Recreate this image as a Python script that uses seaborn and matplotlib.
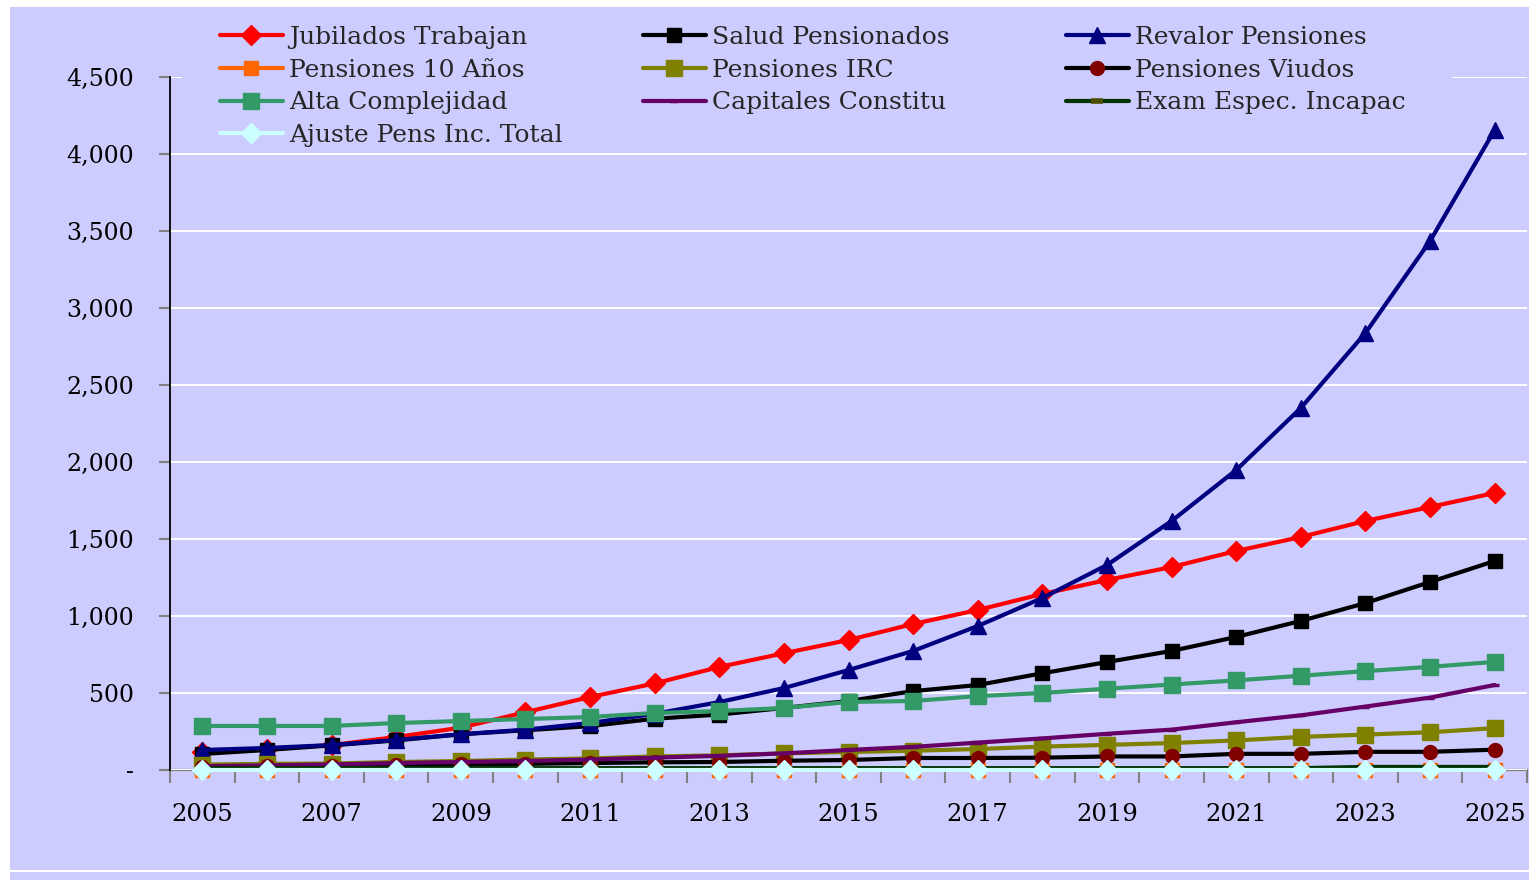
import matplotlib
matplotlib.use("Agg")
import matplotlib.pyplot as plt
import matplotlib.ticker as mticker
from matplotlib.patches import Rectangle
import seaborn as sns

# ---------------- data ----------------
years = list(range(2005, 2026))
jubilados = [120, 135, 162, 214, 275, 375, 474, 562, 669, 758, 844, 948, 1039, 1143, 1234, 1318, 1422, 1513, 1617, 1708, 1799]
salud = [104, 130, 160, 192, 232, 258, 285, 333, 360, 403, 448, 512, 552, 628, 701, 773, 864, 968, 1084, 1221, 1357]
revalor = [130, 143, 162, 195, 232, 262, 305, 365, 441, 532, 649, 773, 935, 1117, 1331, 1617, 1948, 2351, 2838, 3435, 4156]
pens10 = [0, 0, 0, 0, 0, 0, 0, 0, 0, 0, 0, 0, 0, 0, 0, 0, 0, 0, 0, 0, 0]
irc = [35, 40, 42, 52, 58, 68, 75, 88, 95, 108, 117, 125, 136, 152, 163, 175, 192, 215, 230, 245, 272]
viudos = [22, 25, 28, 32, 36, 40, 45, 50, 52, 60, 65, 78, 78, 80, 88, 88, 105, 105, 118, 118, 132]
alta = [286, 286, 286, 305, 318, 331, 344, 370, 383, 403, 442, 448, 480, 500, 528, 555, 582, 612, 642, 670, 702]
capitales = [25, 30, 36, 45, 52, 58, 68, 80, 92, 108, 130, 150, 178, 205, 235, 262, 310, 355, 412, 470, 552]
exam = [12, 12, 12, 12, 12, 12, 12, 12, 12, 12, 12, 12, 12, 12, 12, 12, 12, 12, 20, 20, 20]
ajuste = [0, 0, 0, 0, 0, 0, 0, 0, 0, 0, 0, 0, 0, 0, 0, 0, 0, 0, 0, 0, 0]

labels = ["Jubilados Trabajan", "Salud Pensionados", "Revalor Pensiones",
          "Pensiones 10 Años", "Pensiones IRC", "Pensiones Viudos",
          "Alta Complejidad", "Capitales Constitu", "Exam Espec. Incapac",
          "Ajuste Pens Inc. Total"]
series = [jubilados, salud, revalor, pens10, irc, viudos, alta, capitales, exam, ajuste]
y_ticks = [0, 500, 1000, 1500, 2000, 2500, 3000, 3500, 4000, 4500]
x_label_years = [2005, 2007, 2009, 2011, 2013, 2015, 2017, 2019, 2021, 2023, 2025]

# ---------------- styles ----------------
LAV = "#CCCCFF"
styles = [
    dict(color="#FF0000", marker="D", mfc="#FF0000", mec="#FF0000", ms=10),
    dict(color="#000000", marker="s", mfc="#000000", mec="#000000", ms=10),
    dict(color="#000080", marker="^", mfc="#000080", mec="#000080", ms=12),
    dict(color="#FF6600", marker="s", mfc="#FF6600", mec="#FF6600", ms=10),
    dict(color="#808000", marker="s", mfc="#808000", mec="#808000", ms=11),
    dict(color="#000000", marker="o", mfc="#800000", mec="#800000", ms=10),
    dict(color="#339966", marker="s", mfc="#339966", mec="#339966", ms=12),
    dict(color="#660066", marker="_", mfc="#660066", mec="#660066", ms=6, mew=2.5),
    dict(color="#003300", marker="_", mfc="#4D4D00", mec="#4D4D00", ms=9, mew=4),
    dict(color="#CCFFFF", marker="D", mfc="#CCFFFF", mec="#CCFFFF", ms=10),
]

sns.set_theme(style="white")
plt.rcParams["font.family"] = ["DejaVu Serif"]

fig = plt.figure(figsize=(15.29, 8.80), dpi=100)
fig.patch.set_facecolor("white")
W, H = 1529.0, 880.0
# chart area background (lavender) with thin white edges like the source
fig.patches.append(Rectangle((10 / W, 0), 1 - 10 / W, 1 - 7 / H, transform=fig.transFigure,
                             facecolor=LAV, edgecolor="none", zorder=-10))
fig.patches.append(Rectangle((10 / W, (880 - 872) / H), 1 - 10 / W, 2 / H, transform=fig.transFigure,
                             facecolor="white", edgecolor="none", zorder=-9))

ax = fig.add_axes([170 / W, 1 - 770 / H, (1527 - 170) / W, (770 - 77) / H])
ax.set_facecolor(LAV)

handles = []
for lab, vals, st in zip(labels, series, styles):
    sns.lineplot(x=years, y=vals, ax=ax, color=st["color"], marker=st["marker"],
                 markerfacecolor=st["mfc"], markeredgecolor=st["mec"],
                 markersize=st["ms"], markeredgewidth=st.get("mew", 1),
                 linewidth=3.0, label=lab, clip_on=False, legend=False)
    handles.append(ax.lines[-1])

ax.set_xlim(2004.5, 2025.5)
ax.set_ylim(0, 4500)

# grid
ax.yaxis.grid(True, color="white", linewidth=1.4)
ax.xaxis.grid(False)
ax.set_axisbelow(True)

# spines
for s in ["top", "right"]:
    ax.spines[s].set_visible(False)
ax.spines["left"].set_color("black")
ax.spines["left"].set_linewidth(1.3)
ax.spines["bottom"].set_color("#808080")
ax.spines["bottom"].set_linewidth(1.6)
ax.spines["bottom"].set_zorder(0.5)

# y ticks
ax.set_yticks(y_ticks)
ax.yaxis.set_major_formatter(mticker.FuncFormatter(lambda v, p: "-" if v == 0 else f"{v:,.0f}"))
ax.tick_params(axis="y", which="major", direction="out", length=8, width=1.5,
               color="#808080", pad=18, labelsize=17, left=True)

# x ticks: labels at odd years, tick marks at category boundaries
ax.set_xticks(x_label_years)
ax.set_xticks([2004.5 + i for i in range(22)], minor=True)
ax.tick_params(axis="x", which="major", length=0, pad=24, labelsize=17.5, bottom=True)
ax.tick_params(axis="x", which="minor", direction="out", length=9, width=1.5,
               color="#808080", bottom=True)
ax.set_xlabel("")
ax.set_ylabel("")
for t in ax.get_xticklabels() + ax.get_yticklabels():
    t.set_color("black")

# legend background panel
fig.patches.append(Rectangle((182 / W, 1 - 152 / H), (1452 - 182) / W, (152 - 12) / H,
                             transform=fig.transFigure, facecolor=LAV, edgecolor="none", zorder=2))

cols = [[0, 3, 6, 9], [1, 4, 7], [2, 5, 8]]
col_x = [220, 643, 1066]
for idx, cx in zip(cols, col_x):
    leg = fig.legend([handles[i] for i in idx], [labels[i] for i in idx],
                     loc="upper left", bbox_to_anchor=(cx / W, 1 - 26 / H),
                     bbox_transform=fig.transFigure, frameon=False, borderpad=0,
                     borderaxespad=0, handlelength=2.5, handletextpad=0.25,
                     labelspacing=0.39, prop={"family": "DejaVu Serif", "size": 18})
    leg.set_zorder(5)

fig.savefig("out.png", dpi=100, facecolor=fig.get_facecolor())
